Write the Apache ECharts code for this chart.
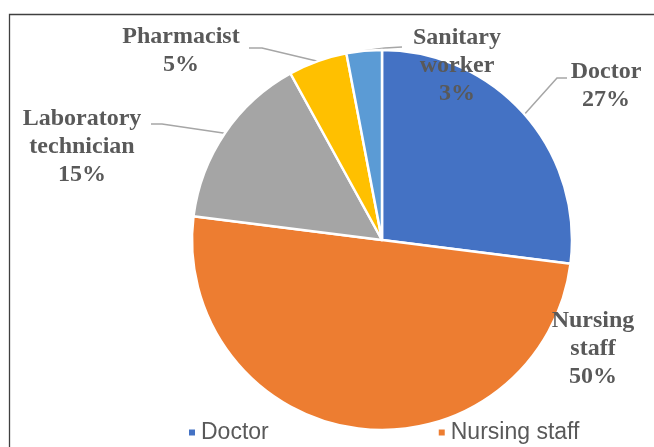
<!DOCTYPE html>
<html>
<head>
<meta charset="utf-8">
<script src="https://cdn.jsdelivr.net/npm/echarts@6/dist/echarts.min.js"></script>
<style>html,body{margin:0;padding:0;background:#fff}#c{width:654px;height:447px}</style>
</head>
<body>
<div id="c"></div>
<script>
const categories = ['Doctor', 'Nursing staff', 'Laboratory technician', 'Pharmacist', 'Sanitary worker'];
const values = [27, 50, 15, 5, 3];
const colors = ['#4472C4', '#ED7D31', '#A5A5A5', '#FFC000', '#5B9BD5'];

// label placement (text block centre, and leader-line bend/end points)
const labelLayouts = [
  { x: 606, y: 86, line: [[557, 78], [567, 78]] },
  { x: 593, y: 349, line: null },
  { x: 82, y: 147, line: [[162, 124], [151, 124]] },
  { x: 181, y: 51, line: [[262, 48], [249, 48]] },
  { x: 457, y: 66, line: [[385, 48], [402, 47]] }
];

const chart = echarts.init(document.getElementById('c'), null, { renderer: 'canvas' });
chart.setOption({
  animation: false,
  backgroundColor: '#ffffff',
  graphic: [{
    type: 'rect',
    shape: { x: 9.5, y: 14.5, width: 800, height: 600 },
    style: { fill: 'none', stroke: '#404040', lineWidth: 1.3 },
    z: -1
  }],
  legend: {
    data: categories,
    left: 182,
    top: 416,
    width: 430,
    itemGap: 168,
    icon: 'rect',
    itemWidth: 8,
    itemHeight: 8,
    textStyle: { fontFamily: 'Liberation Sans', fontSize: 23, color: '#595959' }
  },
  series: [{
    type: 'pie',
    center: [382, 240],
    radius: 190,
    startAngle: 90,
    clockwise: true,
    avoidLabelOverlap: false,
    itemStyle: { borderColor: '#ffffff', borderWidth: 2.5 },
    label: {
      show: true,
      position: 'outside',
      formatter: function (p) { return p.name.replace(' ', '\n') + '\n' + p.value + '%'; },
      fontFamily: 'Liberation Serif',
      fontWeight: 'bold',
      fontSize: 24,
      lineHeight: 28,
      color: '#595959',
      align: 'center'
    },
    labelLine: { show: true, lineStyle: { color: '#A6A6A6', width: 1.5 } },
    labelLayout: function (params) {
      const L = labelLayouts[params.dataIndex];
      const out = { x: L.x, y: L.y, align: 'center', verticalAlign: 'middle' };
      if (L.line && params.labelLinePoints) {
        out.labelLinePoints = [params.labelLinePoints[0], L.line[0], L.line[1]];
      }
      return out;
    },
    data: categories.map(function (n, i) {
      const d = { name: n, value: values[i], itemStyle: { color: colors[i] } };
      if (i === 1) d.labelLine = { show: false };
      return d;
    })
  }]
});
</script>
</body>
</html>
